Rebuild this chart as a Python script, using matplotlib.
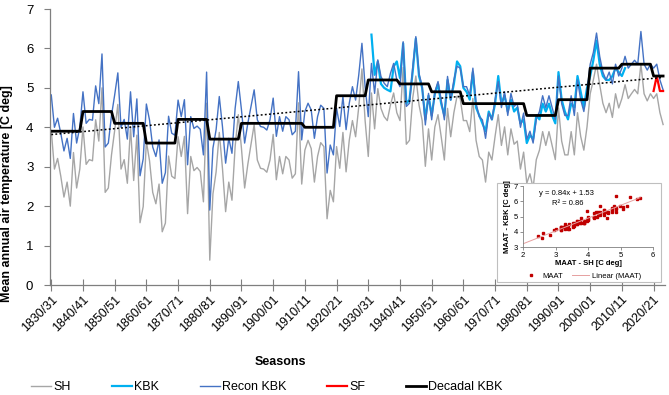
import numpy as np
import matplotlib
matplotlib.use("Agg")
import matplotlib.pyplot as plt
from matplotlib.patches import Rectangle

plt.rcParams['font.family'] = ['Liberation Sans', 'DejaVu Sans']

# ---------------- data ----------------
first_year = 1830
recon_kbk = [
    4.82, 4.00, 4.23, 3.85, 3.40, 3.72, 3.21, 4.35, 3.60, 4.00,
    4.90, 4.10, 4.20, 4.18, 5.05, 4.60, 5.86, 3.50, 3.60, 4.30,
    4.82, 5.38, 4.00, 4.20, 3.70, 4.90, 3.76, 4.72, 2.77, 3.20,
    4.59, 4.18, 3.50, 3.26, 3.68, 2.58, 2.85, 4.28, 3.85, 3.80,
    4.69, 4.27, 4.70, 3.05, 4.27, 3.97, 4.03, 3.95, 3.30, 5.40,
    1.90, 3.47, 3.94, 4.78, 4.02, 3.09, 3.72, 3.34, 4.48, 5.16,
    4.44, 3.60, 4.10, 4.52, 4.95, 4.19, 4.02, 4.00, 3.93, 4.19,
    4.74, 3.77, 4.27, 3.90, 4.27, 4.19, 3.81, 3.90, 5.41, 3.68,
    4.40, 4.61, 4.44, 3.72, 4.27, 4.56, 4.48, 2.84, 3.55, 3.30,
    4.48, 4.02, 4.78, 3.94, 4.61, 5.03, 4.69, 5.33, 6.13, 5.03,
    4.27, 5.62, 4.86, 5.71, 5.29, 5.12, 5.03, 5.37, 5.62, 5.20,
    5.03, 6.17, 4.53, 4.61, 5.50, 6.30, 5.37, 5.03, 4.06, 4.86,
    4.19, 4.90, 5.16, 4.69, 4.19, 5.29, 4.69, 5.20, 5.55, 5.50,
    5.03, 5.03, 4.80, 5.50, 4.61, 4.27, 4.19, 3.72, 4.36, 4.19,
    4.70, 5.16, 4.50, 4.90, 4.30, 4.86, 4.53, 4.60, 4.00, 4.36,
    3.70, 3.90, 3.60, 4.20, 4.40, 4.80, 4.50, 4.80, 4.50, 4.20,
    5.30, 4.60, 4.30, 4.30, 4.80, 4.30, 5.20, 4.70, 4.40, 4.90,
    5.60, 5.90, 6.39, 5.80, 5.40, 5.20, 5.40, 5.10, 5.60, 5.30,
    5.50, 5.80, 5.50, 5.60, 5.70, 5.60, 6.43, 5.60, 5.45, 5.60,
    5.50, 5.60, 5.20, 4.95,
]
sh = [
    3.92, 2.94, 3.21, 2.76, 2.23, 2.61, 2.00, 3.36, 2.46, 2.94,
    4.01, 3.06, 3.18, 3.15, 4.19, 3.65, 5.00, 2.35, 2.46, 3.30,
    3.92, 4.58, 2.94, 3.18, 2.58, 4.01, 2.65, 3.80, 1.58, 1.99,
    3.64, 3.15, 2.35, 2.06, 2.56, 1.35, 1.57, 3.27, 2.76, 2.70,
    3.76, 3.26, 3.77, 1.81, 3.26, 2.90, 2.98, 2.88, 2.11, 4.61,
    0.63, 2.31, 2.87, 3.87, 2.96, 1.86, 2.61, 2.15, 3.51, 4.32,
    3.46, 2.46, 3.06, 3.56, 4.07, 3.17, 2.96, 2.94, 2.86, 3.17,
    3.82, 2.67, 3.26, 2.82, 3.26, 3.17, 2.71, 2.82, 4.62, 2.56,
    3.42, 3.67, 3.46, 2.61, 3.26, 3.61, 3.51, 1.68, 2.40, 2.11,
    3.51, 2.96, 3.87, 2.87, 3.67, 4.17, 3.76, 4.52, 5.48, 4.17,
    3.26, 4.87, 3.96, 4.98, 4.48, 4.27, 4.17, 4.57, 4.87, 4.37,
    4.17, 5.52, 3.57, 3.67, 4.73, 5.30, 4.57, 4.17, 3.01, 3.96,
    3.17, 4.01, 4.32, 3.76, 3.17, 4.48, 3.76, 4.37, 4.79, 4.73,
    4.17, 4.17, 3.89, 4.73, 3.67, 3.26, 3.17, 2.61, 3.37, 3.17,
    3.77, 4.32, 3.54, 4.01, 3.30, 3.96, 3.57, 3.65, 2.94, 3.37,
    2.58, 2.82, 2.46, 3.18, 3.42, 3.89, 3.54, 3.89, 3.54, 3.18,
    4.49, 3.65, 3.30, 3.30, 3.89, 3.30, 4.37, 3.77, 3.42, 4.01,
    4.85, 5.20, 5.60, 5.08, 4.61, 4.37, 4.61, 4.25, 4.85, 4.49,
    4.73, 5.08, 4.73, 4.85, 4.96, 4.85, 5.60, 4.85, 4.67, 4.85,
    4.73, 4.85, 4.37, 4.07,
]
kbk_first_year = 1931
kbk = [
    6.35, 5.33, 5.67, 5.10, 5.00, 4.95, 4.91, 5.54, 5.67,
    5.25, 6.13, 4.60, 4.70, 5.40, 6.25, 5.30, 5.00, 4.20, 4.80,
    4.30, 4.85, 5.10, 4.60, 4.30, 5.20, 4.70, 5.10, 5.67, 5.55,
    5.00, 4.90, 4.70, 5.40, 4.50, 4.30, 4.10, 3.90, 4.40, 4.20,
    4.60, 5.30, 4.60, 4.80, 4.40, 4.70, 4.40, 4.50, 4.10, 4.20,
    3.60, 3.80, 3.70, 4.30, 4.20, 4.60, 4.40, 4.60, 4.30, 4.10,
    5.40, 4.70, 4.40, 4.20, 4.60, 4.50, 5.30, 4.90, 4.50, 5.00,
    5.30, 5.70, 6.20, 5.60, 5.30, 5.20, 5.20, 5.30, 5.50, 5.40,
    5.30, 5.50,
]
sf_first_year = 2020
sf = [4.92, 5.30, 4.92, 4.92]
decades = [1830, 1840, 1850, 1860, 1870, 1880, 1890, 1900, 1910, 1920,
           1930, 1940, 1950, 1960, 1970, 1980, 1990, 2000, 2010, 2020]
decadal_kbk = [3.9, 4.4, 4.1, 3.6, 4.2, 3.7, 4.1, 4.1, 4.0, 4.8,
               5.2, 5.1, 4.9, 4.6, 4.6, 4.3, 4.7, 5.5, 5.6, 5.3]
tick_labels = ["1830/31", "1840/41", "1850/51", "1860/61", "1870/71",
               "1880/81", "1890/91", "1900/01", "1910/11", "1920/21",
               "1930/31", "1940/41", "1950/51", "1960/61", "1970/71",
               "1980/81", "1990/91", "2000/01", "2010/11", "2020/21"]
fit_slope = 0.84
fit_intercept = 1.53
fit_r2 = 0.86

# ---------------- derived arrays ----------------
years = np.arange(first_year, first_year + len(recon_kbk))
kbk_years = np.arange(kbk_first_year, kbk_first_year + len(kbk))
sf_years = np.arange(sf_first_year, sf_first_year + len(sf))
dec_line = np.array([decadal_kbk[decades.index((y // 10) * 10)] for y in years])
coef = np.polyfit(years, np.array(recon_kbk), 1)
trend = np.polyval(coef, years)

C_SH = '#A6A6A6'
C_KBK = '#00B0F0'
C_REC = '#4472C4'
C_SF = '#FF0000'

# ---------------- figure ----------------
W, H = 669, 395
fig = plt.figure(figsize=(W / 100, H / 100), dpi=100)
ax = fig.add_axes([50 / W, 1 - 285 / H, 615 / W, 276 / H])

l_sh, = ax.plot(years, sh, color=C_SH, lw=1.0, label='SH')
l_kbk, = ax.plot(kbk_years, kbk, color=C_KBK, lw=1.6, label='KBK')
l_rec, = ax.plot(years, recon_kbk, color=C_REC, lw=1.0, label='Recon KBK')
l_sf, = ax.plot(sf_years, sf, color=C_SF, lw=1.6, label='SF')
l_dec, = ax.plot(years, dec_line, color='black', lw=2.0, label='Decadal KBK')
ax.plot(years, trend, color='black', lw=1.1, ls=(0, (1.2, 1.5)))

ax.set_xlim(1829.6, 2023.6)
ax.set_ylim(0, 7)
ax.set_yticks(range(0, 8))
ax.set_xticks(decades)
ax.set_xticklabels(tick_labels, rotation=45, ha='right', rotation_mode='anchor')
for s in ['top', 'right']:
    ax.spines[s].set_visible(False)
for s in ['left', 'bottom']:
    ax.spines[s].set_color('#7F7F7F')
    ax.spines[s].set_linewidth(0.9)
ax.tick_params(axis='y', direction='out', length=4, color='#7F7F7F', labelsize=9.5, pad=8)
ax.tick_params(axis='x', direction='inout', length=8, color='#7F7F7F', labelsize=9, pad=2)
ax.set_ylabel('Mean annual air temperature [C deg]', fontsize=9, fontweight='bold')
ax.yaxis.set_label_coords(-0.06, 0.33)

fig.text(280 / W, 1 - 362 / H, 'Seasons', ha='center', va='center', fontsize=9, fontweight='bold')

fig.legend(handles=[l_sh, l_kbk, l_rec, l_sf, l_dec], loc='center',
           bbox_to_anchor=(267 / W, 1 - 387 / H), ncol=5, frameon=False,
           fontsize=9, handlelength=1.6, handletextpad=0.15, columnspacing=3.3)

# ---------------- inset ----------------
box = Rectangle((497 / W, 1 - 282 / H), 164 / W, 99 / H, transform=fig.transFigure,
                facecolor='white', edgecolor='#BFBFBF', lw=0.8, zorder=5)
fig.patches.append(box)
iax = fig.add_axes([523 / W, 1 - 247 / H, 130 / W, 61 / H], zorder=6)
iax.patch.set_alpha(0)
sh_arr = np.array(sh)
pair_idx = kbk_years - first_year
xs = sh_arr[pair_idx]
iax.plot(xs, kbk, ls='none', marker='s', ms=1.5, color='#C00000', label='MAAT')
fx = np.array([2.0, xs.max()])
iax.plot(fx, fit_slope * fx + fit_intercept, color='#E6A0A0', lw=0.7, label='Linear (MAAT)')
iax.set_xlim(2, 6)
iax.set_ylim(3, 7)
iax.set_xticks([2, 3, 4, 5, 6])
iax.set_yticks([3, 4, 5, 6, 7])
for s in ['top', 'right']:
    iax.spines[s].set_visible(False)
for s in ['left', 'bottom']:
    iax.spines[s].set_color('#7F7F7F')
    iax.spines[s].set_linewidth(0.6)
iax.tick_params(labelsize=5.5, length=2, width=0.6, color='#7F7F7F', pad=1.5)
iax.set_xlabel('MAAT - SH [C deg]', fontsize=5.5, fontweight='bold', labelpad=1)
iax.set_ylabel('MAAT - KBK [C deg]', fontsize=5.5, fontweight='bold', labelpad=2)
iax.text(0.12, 0.87, 'y = 0.84x + 1.53', transform=iax.transAxes, fontsize=5.5, va='center')
iax.text(0.22, 0.72, 'R² = %.2f' % fit_r2, transform=iax.transAxes, fontsize=5.5, va='center')
fig.legend(handles=iax.get_lines(), loc='center', bbox_to_anchor=(582 / W, 1 - 276 / H),
           ncol=2, frameon=False, fontsize=5.5, handlelength=2.2, handletextpad=0.4,
           columnspacing=1.2, markerscale=1.2)

fig.savefig('out.png', dpi=100)
